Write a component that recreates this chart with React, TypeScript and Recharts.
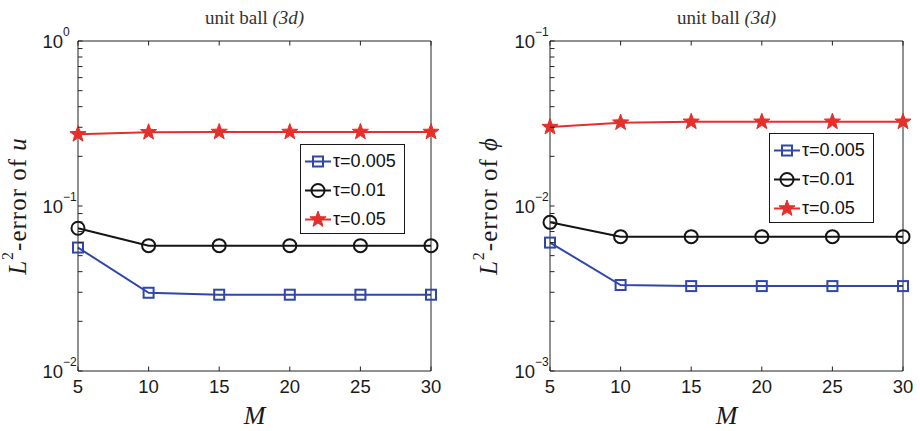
import React from "react";
import { LineChart, Line, XAxis, YAxis, Legend, Label } from "recharts";

const mValues = [5, 10, 15, 20, 25, 30];

// L2-error of u
const uTau005 = [0.056, 0.0298, 0.029, 0.029, 0.029, 0.029];
const uTau01 = [0.0733, 0.0575, 0.0575, 0.0575, 0.0575, 0.0575];
const uTau05 = [0.272, 0.28, 0.281, 0.281, 0.281, 0.281];

// L2-error of phi
const phiTau005 = [0.006, 0.00332, 0.00327, 0.00327, 0.00327, 0.00327];
const phiTau01 = [0.00796, 0.00652, 0.00652, 0.00652, 0.00652, 0.00652];
const phiTau05 = [0.0301, 0.032, 0.0324, 0.0324, 0.0324, 0.0324];

const xTicks = [5, 10, 15, 20, 25, 30];
const uDecades = [0.01, 0.1, 1];
const phiDecades = [0.001, 0.01, 0.1];

const seriesStyle = [
  { key: "t005", name: "τ=0.005", color: "#2f46ad", marker: "square" },
  { key: "t01", name: "τ=0.01", color: "#141414", marker: "circle" },
  { key: "t05", name: "τ=0.05", color: "#e3302a", marker: "star" },
];

const SANS = '"Liberation Sans", Arial, Helvetica, sans-serif';
const SERIF = '"Liberation Serif", "Times New Roman", serif';
const AXIS = "#222";
const TICK_LEN = 4.5;

function logTicks(decades: number[]) {
  const out: number[] = [];
  decades.forEach((d, i) => {
    if (i === decades.length - 1) {
      out.push(d);
    } else {
      for (let k = 1; k <= 9; k++) out.push(d * k);
    }
  });
  return out;
}

function isDecade(v: number) {
  const l = Math.log10(v);
  return Math.abs(l - Math.round(l)) < 1e-6;
}

function Marker({ type, cx, cy, color }: any) {
  if (cx == null || cy == null) return null;
  if (type === "square") {
    return <rect x={cx - 5} y={cy - 5} width={10} height={10} fill="none" stroke={color} strokeWidth={2} />;
  }
  if (type === "circle") {
    return <circle cx={cx} cy={cy} r={6.5} fill="none" stroke={color} strokeWidth={2} />;
  }
  const pts: string[] = [];
  for (let i = 0; i < 10; i++) {
    const r = i % 2 === 0 ? 8.5 : 3.5;
    const a = -Math.PI / 2 + (i * Math.PI) / 5;
    pts.push(`${cx + r * Math.cos(a)},${cy + r * Math.sin(a)}`);
  }
  return <polygon points={pts.join(" ")} fill={color} stroke={color} strokeWidth={1} />;
}

function LeftTick({ x, y, payload }: any) {
  const v = payload.value;
  const major = isDecade(v);
  const exp = Math.round(Math.log10(v));
  return (
    <g>
      <line x1={x} y1={y} x2={x + TICK_LEN} y2={y} stroke={AXIS} strokeWidth={1} />
      {major && (
        <g fontFamily={SANS} fill="#1a1a1a">
          <text x={x - 15} y={y + 6.5} textAnchor="end" fontSize={18.5}>10</text>
          <text x={x - 15} y={y - 5} textAnchor="start" fontSize={12}>
            {exp < 0 ? `−${-exp}` : `${exp}`}
          </text>
        </g>
      )}
    </g>
  );
}

function RightTick({ x, y }: any) {
  return <line x1={x} y1={y} x2={x - TICK_LEN} y2={y} stroke={AXIS} strokeWidth={1} />;
}

function BottomTick({ x, y, payload }: any) {
  return (
    <g>
      <line x1={x} y1={y} x2={x} y2={y - TICK_LEN} stroke={AXIS} strokeWidth={1} />
      <text x={x} y={y + 22} textAnchor="middle" fontFamily={SANS} fontSize={18.5} fill="#1a1a1a">
        {payload.value}
      </text>
    </g>
  );
}

function TopTick({ x, y }: any) {
  return <line x1={x} y1={y} x2={x} y2={y + TICK_LEN} stroke={AXIS} strokeWidth={1} />;
}

function LegendBox() {
  return (
    <div
      style={{
        width: 105,
        height: 90,
        boxSizing: "border-box",
        border: "1px solid #1a1a1a",
        background: "#fff",
        paddingTop: 2,
      }}
    >
      {seriesStyle.map((s) => (
        <div key={s.key} style={{ display: "flex", alignItems: "center", height: 29 }}>
          <svg width={32} height={29} style={{ display: "block" }}>
            <line x1={4} y1={14.5} x2={30} y2={14.5} stroke={s.color} strokeWidth={2} />
            <Marker type={s.marker} cx={17} cy={14.5} color={s.color} />
          </svg>
          <span style={{ fontFamily: SANS, fontSize: 18, color: "#111", lineHeight: "29px" }}>{s.name}</span>
        </div>
      ))}
    </div>
  );
}

interface PanelProps {
  series: number[][];
  decades: number[];
  variable: string;
  yAxisWidth: number;
  rightWidth: number;
  labelX: number;
  legendLeft: number;
  legendTop: number;
}

function ErrorPanel({ series, decades, variable, yAxisWidth, rightWidth, labelX, legendLeft, legendTop }: PanelProps) {
  const data = mValues.map((m, i) => ({
    m,
    t005: series[0][i],
    t01: series[1][i],
    t05: series[2][i],
  }));
  const ticks = logTicks(decades);
  const domain = [decades[0], decades[decades.length - 1]];

  return (
    <LineChart width={460} height={431} data={data} margin={{ top: 0, right: 0, bottom: 0, left: 0 }}>
      <XAxis
        dataKey="m"
        type="number"
        domain={[5, 30]}
        ticks={xTicks}
        interval={0}
        height={60}
        tickSize={0}
        tickMargin={0}
        tickLine={false}
        axisLine={{ stroke: AXIS, strokeWidth: 1 }}
        tick={<BottomTick />}
      >
        <Label
          content={({ viewBox }: any) => (
            <text
              x={viewBox.x + viewBox.width / 2}
              y={viewBox.y + 53}
              textAnchor="middle"
              fontFamily={SERIF}
              fontStyle="italic"
              fontSize={26}
              fill="#1a1a1a"
            >
              M
            </text>
          )}
        />
      </XAxis>
      <XAxis
        xAxisId="top"
        dataKey="m"
        type="number"
        orientation="top"
        domain={[5, 30]}
        ticks={xTicks}
        interval={0}
        height={41}
        tickSize={0}
        tickMargin={0}
        tickLine={false}
        axisLine={{ stroke: AXIS, strokeWidth: 1 }}
        tick={<TopTick />}
      >
        <Label
          content={({ viewBox }: any) => (
            <text
              x={viewBox.x + viewBox.width / 2}
              y={24}
              textAnchor="middle"
              fontFamily={SERIF}
              fontSize={19}
              fill="#333"
            >
              unit ball <tspan fontStyle="italic">(3d)</tspan>
            </text>
          )}
        />
      </XAxis>
      <YAxis
        type="number"
        scale="log"
        domain={domain}
        ticks={ticks}
        interval={0}
        width={yAxisWidth}
        tickSize={0}
        tickMargin={0}
        tickLine={false}
        axisLine={{ stroke: AXIS, strokeWidth: 1 }}
        tick={<LeftTick />}
      >
        <Label
          content={({ viewBox }: any) => {
            const cy = viewBox.y + viewBox.height / 2;
            return (
              <text
                transform={`rotate(-90, ${labelX}, ${cy})`}
                x={labelX}
                y={cy}
                textAnchor="middle"
                dominantBaseline="central"
                fontFamily={SERIF}
                fontSize={25}
                letterSpacing={1}
                fill="#1a1a1a"
              >
                <tspan fontStyle="italic">L</tspan>
                <tspan dy={-10} fontSize={16}>2</tspan>
                <tspan dy={10}>-error of </tspan>
                <tspan fontStyle="italic">{variable}</tspan>
              </text>
            );
          }}
        />
      </YAxis>
      <YAxis
        yAxisId="right"
        orientation="right"
        type="number"
        scale="log"
        domain={domain}
        ticks={ticks}
        interval={0}
        width={rightWidth}
        tickSize={0}
        tickMargin={0}
        tickLine={false}
        axisLine={{ stroke: AXIS, strokeWidth: 1 }}
        tick={<RightTick />}
      />
      <Legend
        layout="vertical"
        align="center"
        verticalAlign="middle"
        wrapperStyle={{ left: legendLeft, top: legendTop, width: 105 }}
        content={() => <LegendBox />}
      />
      {seriesStyle.map((s) => (
        <Line
          key={s.key}
          dataKey={s.key}
          name={s.name}
          type="linear"
          stroke={s.color}
          strokeWidth={2}
          isAnimationActive={false}
          dot={(p: any) => <Marker key={`${s.key}-${p.index}`} type={s.marker} cx={p.cx} cy={p.cy} color={s.color} />}
          activeDot={false}
        />
      ))}
    </LineChart>
  );
}

export default function App() {
  return (
    <div
      style={{
        position: "absolute",
        left: 0,
        top: 0,
        width: 920,
        height: 431,
        display: "flex",
        background: "#fff",
      }}
    >
      <ErrorPanel
        series={[uTau005, uTau01, uTau05]}
        decades={uDecades}
        variable="u"
        yAxisWidth={78}
        rightWidth={29}
        labelX={17}
        legendLeft={300}
        legendTop={144}
      />
      <ErrorPanel
        series={[phiTau005, phiTau01, phiTau05]}
        decades={phiDecades}
        variable="ϕ"
        yAxisWidth={90}
        rightWidth={17}
        labelX={28}
        legendLeft={309}
        legendTop={133}
      />
    </div>
  );
}
